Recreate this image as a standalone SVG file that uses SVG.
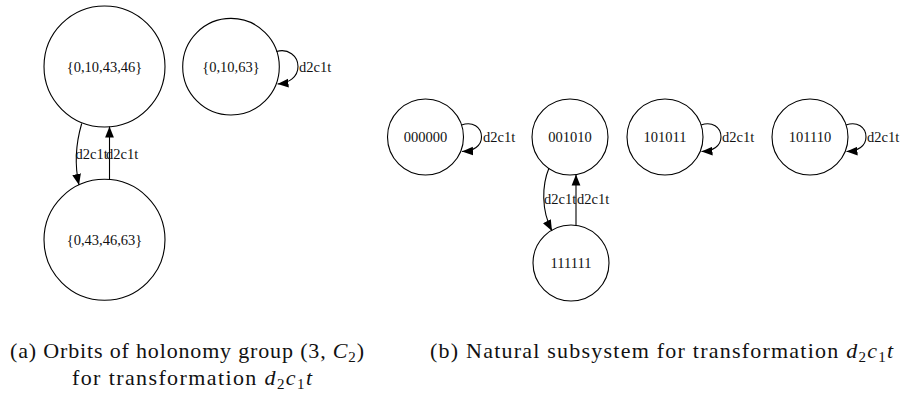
<svg xmlns="http://www.w3.org/2000/svg" width="902" height="399" viewBox="0 0 902 399">
<defs>
<style>
.node circle{fill:#fff;stroke:#000;stroke-width:1.1}
.node text{font-family:"Liberation Serif","Times New Roman",serif;font-size:14.5px;text-anchor:middle;fill:#111}
.edge path{fill:none;stroke:#000;stroke-width:1.1;marker-end:url(#ah)}
.lbl{font-family:"Liberation Serif","Times New Roman",serif;font-size:14.5px;fill:#111}
.cap{font-family:"Liberation Serif","Times New Roman",serif;font-size:22px;fill:#111}
.it{font-style:italic}
</style>
<marker id="ah" viewBox="0 0 11 10" refX="11" refY="5" markerUnits="userSpaceOnUse" markerWidth="11" markerHeight="10" orient="auto">
<path d="M0,0.6 L11,5 L0,9.4 z" fill="#000"/>
</marker>
</defs>
<rect width="902" height="399" fill="#fff"/>

<g id="a_nodes">
<g id="n_a1" class="node"><circle cx="104.5" cy="66.5" r="60.5"/><text x="104.5" y="71.5">{0,10,43,46}</text></g>
<g id="n_a2" class="node"><circle cx="104.5" cy="239.8" r="60.5"/><text x="104.5" y="244.8">{0,43,46,63}</text></g>
<g id="n_a3" class="node"><circle cx="231" cy="66.7" r="48.3"/><text x="231" y="71.7">{0,10,63}</text></g>
</g>

<g id="b_nodes">
<g id="n_b1" class="node"><circle cx="425.5" cy="137" r="38"/><text x="425.5" y="142">000000</text></g>
<g id="n_b2" class="node"><circle cx="570" cy="137" r="38"/><text x="570" y="142">001010</text></g>
<g id="n_b3" class="node"><circle cx="665" cy="137" r="38"/><text x="665" y="142">101011</text></g>
<g id="n_b4" class="node"><circle cx="810" cy="137" r="38"/><text x="810" y="142">101110</text></g>
<g id="n_b5" class="node"><circle cx="571" cy="263" r="38"/><text x="571" y="268">111111</text></g>
</g>

<g id="connectors" class="edge">
<path d="M81.7,123.5 C76,143 74.5,165 79,185"/>
<path d="M109.5,180 L109.5,126.5"/>
<path d="M276.5,51.5 C288,48 298,56 298,66.5 C298,77 289,83 277.5,84"/>
<path d="M461.5,125 C472.5,121 481.5,127 481.5,137 C481.5,146 473.5,151 462,151.5"/>
<path d="M549,168 C542,185 541,210 552,231"/>
<path d="M576,225.5 L576,174.5"/>
<path d="M701,125 C712,121 721,127 721,137 C721,146 713,151 701.5,151.5"/>
<path d="M846,125 C857,121 866,127 866,137 C866,146 858,151 846.5,151.5"/>
</g>

<g id="edge_labels">
<text class="lbl" x="75.5" y="158.5">d2c1t</text>
<text class="lbl" x="106" y="158.5">d2c1t</text>
<text class="lbl" x="299" y="71.7">d2c1t</text>
<text class="lbl" x="483" y="141.5">d2c1t</text>
<text class="lbl" x="544" y="204">d2c1t</text>
<text class="lbl" x="577" y="204">d2c1t</text>
<text class="lbl" x="722" y="141.5">d2c1t</text>
<text class="lbl" x="867" y="141.5">d2c1t</text>
</g>

<g id="captions">
<text class="cap" x="10" y="358" textLength="354" lengthAdjust="spacing">(a) Orbits of holonomy group (3, <tspan class="it">C</tspan><tspan font-size="15" dy="4">2</tspan><tspan dy="-4">)</tspan></text>
<text class="cap" x="72" y="385" textLength="240" lengthAdjust="spacing">for transformation <tspan class="it">d</tspan><tspan font-size="15" dy="4">2</tspan><tspan class="it" dy="-4">c</tspan><tspan font-size="15" dy="4">1</tspan><tspan class="it" dy="-4">t</tspan></text>
<text class="cap" x="430" y="358" textLength="463" lengthAdjust="spacing">(b) Natural subsystem for transformation <tspan class="it">d</tspan><tspan font-size="15" dy="4">2</tspan><tspan class="it" dy="-4">c</tspan><tspan font-size="15" dy="4">1</tspan><tspan class="it" dy="-4">t</tspan></text>
</g>
</svg>
